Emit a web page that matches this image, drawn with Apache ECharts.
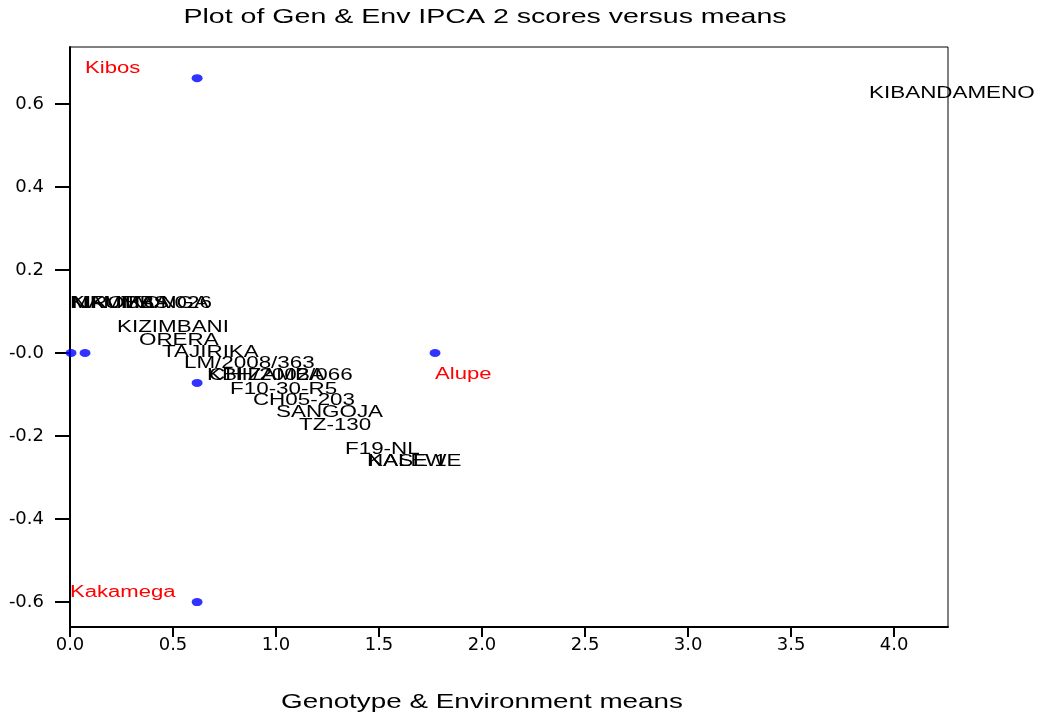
<!DOCTYPE html>
<html>
<head>
<meta charset="utf-8">
<script src="https://cdn.jsdelivr.net/npm/echarts@6/dist/echarts.min.js"></script>
<style>
html,body{margin:0;padding:0;background:#fff;}
#chart{width:1040px;height:713px;}
</style>
</head>
<body>
<div id="chart"></div>
<script>
// ---- data ----
var xTicks = [0, 0.5, 1, 1.5, 2, 2.5, 3, 3.5, 4];
var xTickLabels = ['0.0','0.5','1.0','1.5','2.0','2.5','3.0','3.5','4.0'];
var yTicks = [-0.6, -0.4, -0.2, 0, 0.2, 0.4, 0.6];
var yTickLabels = ['-0.6','-0.4','-0.2','-0.0','0.2','0.4','0.6'];

// blue points (means, IPCA 2 scores)
var pointX = [0.617, 0.617, 1.772, 0.617, 0.073, 0.005];
var pointY = [0.662, -0.600, 0.000, -0.072, 0.000, 0.000];

// genotype labels
var genoNames = ['KIBANDAMENO','KIROBA','MKUMBA','NAMIKONGA','TMS/026','KIZIMBANI','ORERA','TAJIRIKA',
                 'LM/2008/363','KBH/2002/066','CHIZAMBA','F10-30-R5','CH05-203','SANGOJA','TZ-130',
                 'F19-NL','NASE 1','KALEWE'];
var genoX = [3.879, 0.000, 0.005, 0.010, 0.248, 0.228, 0.335, 0.447,
             0.553, 0.665, 0.675, 0.777, 0.888, 1.000, 1.112,
             1.335, 1.442, 1.447];
var genoY = [0.625, 0.120, 0.120, 0.120, 0.120, 0.060, 0.031, 0.002,
             -0.026, -0.055, -0.055, -0.087, -0.115, -0.144, -0.175,
             -0.233, -0.262, -0.262];

// environment labels
var envNames = ['Kibos','Kakamega','Alupe'];
var envX = [0.073, 0.000, 1.772];
var envY = [0.684, -0.578, -0.053];

var titleText = 'Plot of Gen & Env IPCA 2 scores versus means';
var xAxisName = 'Genotype & Environment means';

// ---- chart ----
var chart = echarts.init(document.getElementById('chart'));

function labelSeries(names, xs, ys, color, font, sx) {
  var data = names.map(function (n, i) { return [xs[i], ys[i], n]; });
  return {
    type: 'custom',
    coordinateSystem: 'cartesian2d',
    clip: false,
    silent: true,
    data: data,
    renderItem: function (params, api) {
      var p = api.coord([api.value(0), api.value(1)]);
      return {
        type: 'text',
        x: p[0], y: p[1],
        scaleX: sx,
        style: {
          text: data[params.dataIndex][2],
          fill: color,
          font: font,
          align: 'left',
          verticalAlign: 'middle'
        }
      };
    }
  };
}

var TEXT_FONT = 'Liberation Sans, Arial, sans-serif';

chart.setOption({
  animation: false,
  backgroundColor: '#ffffff',
  grid: {
    left: 70, top: 47, right: 92, bottom: 86,
    show: true, borderColor: '#000', borderWidth: 1, backgroundColor: 'transparent'
  },
  graphic: [
    {
      type: 'text', x: 485, y: 17, scaleX: 1.36,
      style: { text: titleText, font: '21px ' + TEXT_FONT, fill: '#000', align: 'center', verticalAlign: 'middle' }
    },
    {
      type: 'text', x: 482, y: 702, scaleX: 1.39,
      style: { text: xAxisName, font: '20px ' + TEXT_FONT, fill: '#000', align: 'center', verticalAlign: 'middle' }
    }
  ],
  xAxis: {
    type: 'value',
    min: 0, max: 4.262,
    splitLine: { show: false },
    axisLine: { show: true, onZero: false, lineStyle: { color: '#000', width: 2 } },
    axisTick: { show: true, length: 10, lineStyle: { color: '#000', width: 2 }, customValues: xTicks },
    axisLabel: {
      customValues: xTicks,
      margin: 9,
      color: '#000',
      fontFamily: 'DejaVu Sans',
      fontSize: 18,
      formatter: function (v) {
        var i = xTicks.findIndex(function (t) { return Math.abs(t - v) < 1e-6; });
        return i >= 0 ? xTickLabels[i] : '';
      }
    }
  },
  yAxis: {
    type: 'value',
    min: -0.66, max: 0.737,
    splitLine: { show: false },
    axisLine: { show: true, onZero: false, lineStyle: { color: '#000', width: 2 } },
    axisTick: { show: true, length: 15, lineStyle: { color: '#000', width: 2 }, customValues: yTicks },
    axisLabel: {
      customValues: yTicks,
      margin: 26,
      color: '#000',
      fontFamily: 'DejaVu Sans',
      fontSize: 18,
      formatter: function (v) {
        var i = yTicks.findIndex(function (t) { return Math.abs(t - v) < 1e-6; });
        return i >= 0 ? yTickLabels[i] : '';
      }
    }
  },
  series: [
    {
      type: 'scatter',
      symbol: 'circle',
      symbolSize: [11, 8],
      itemStyle: { color: '#0000ff' },
      clip: false,
      silent: true,
      data: pointX.map(function (x, i) { return [x, pointY[i]]; }),
      z: 3
    },
    labelSeries(genoNames, genoX, genoY, '#000', '16px ' + TEXT_FONT, 1.4),
    labelSeries(envNames, envX, envY, '#ff0000', '16px ' + TEXT_FONT, 1.38)
  ]
});
</script>
</body>
</html>
